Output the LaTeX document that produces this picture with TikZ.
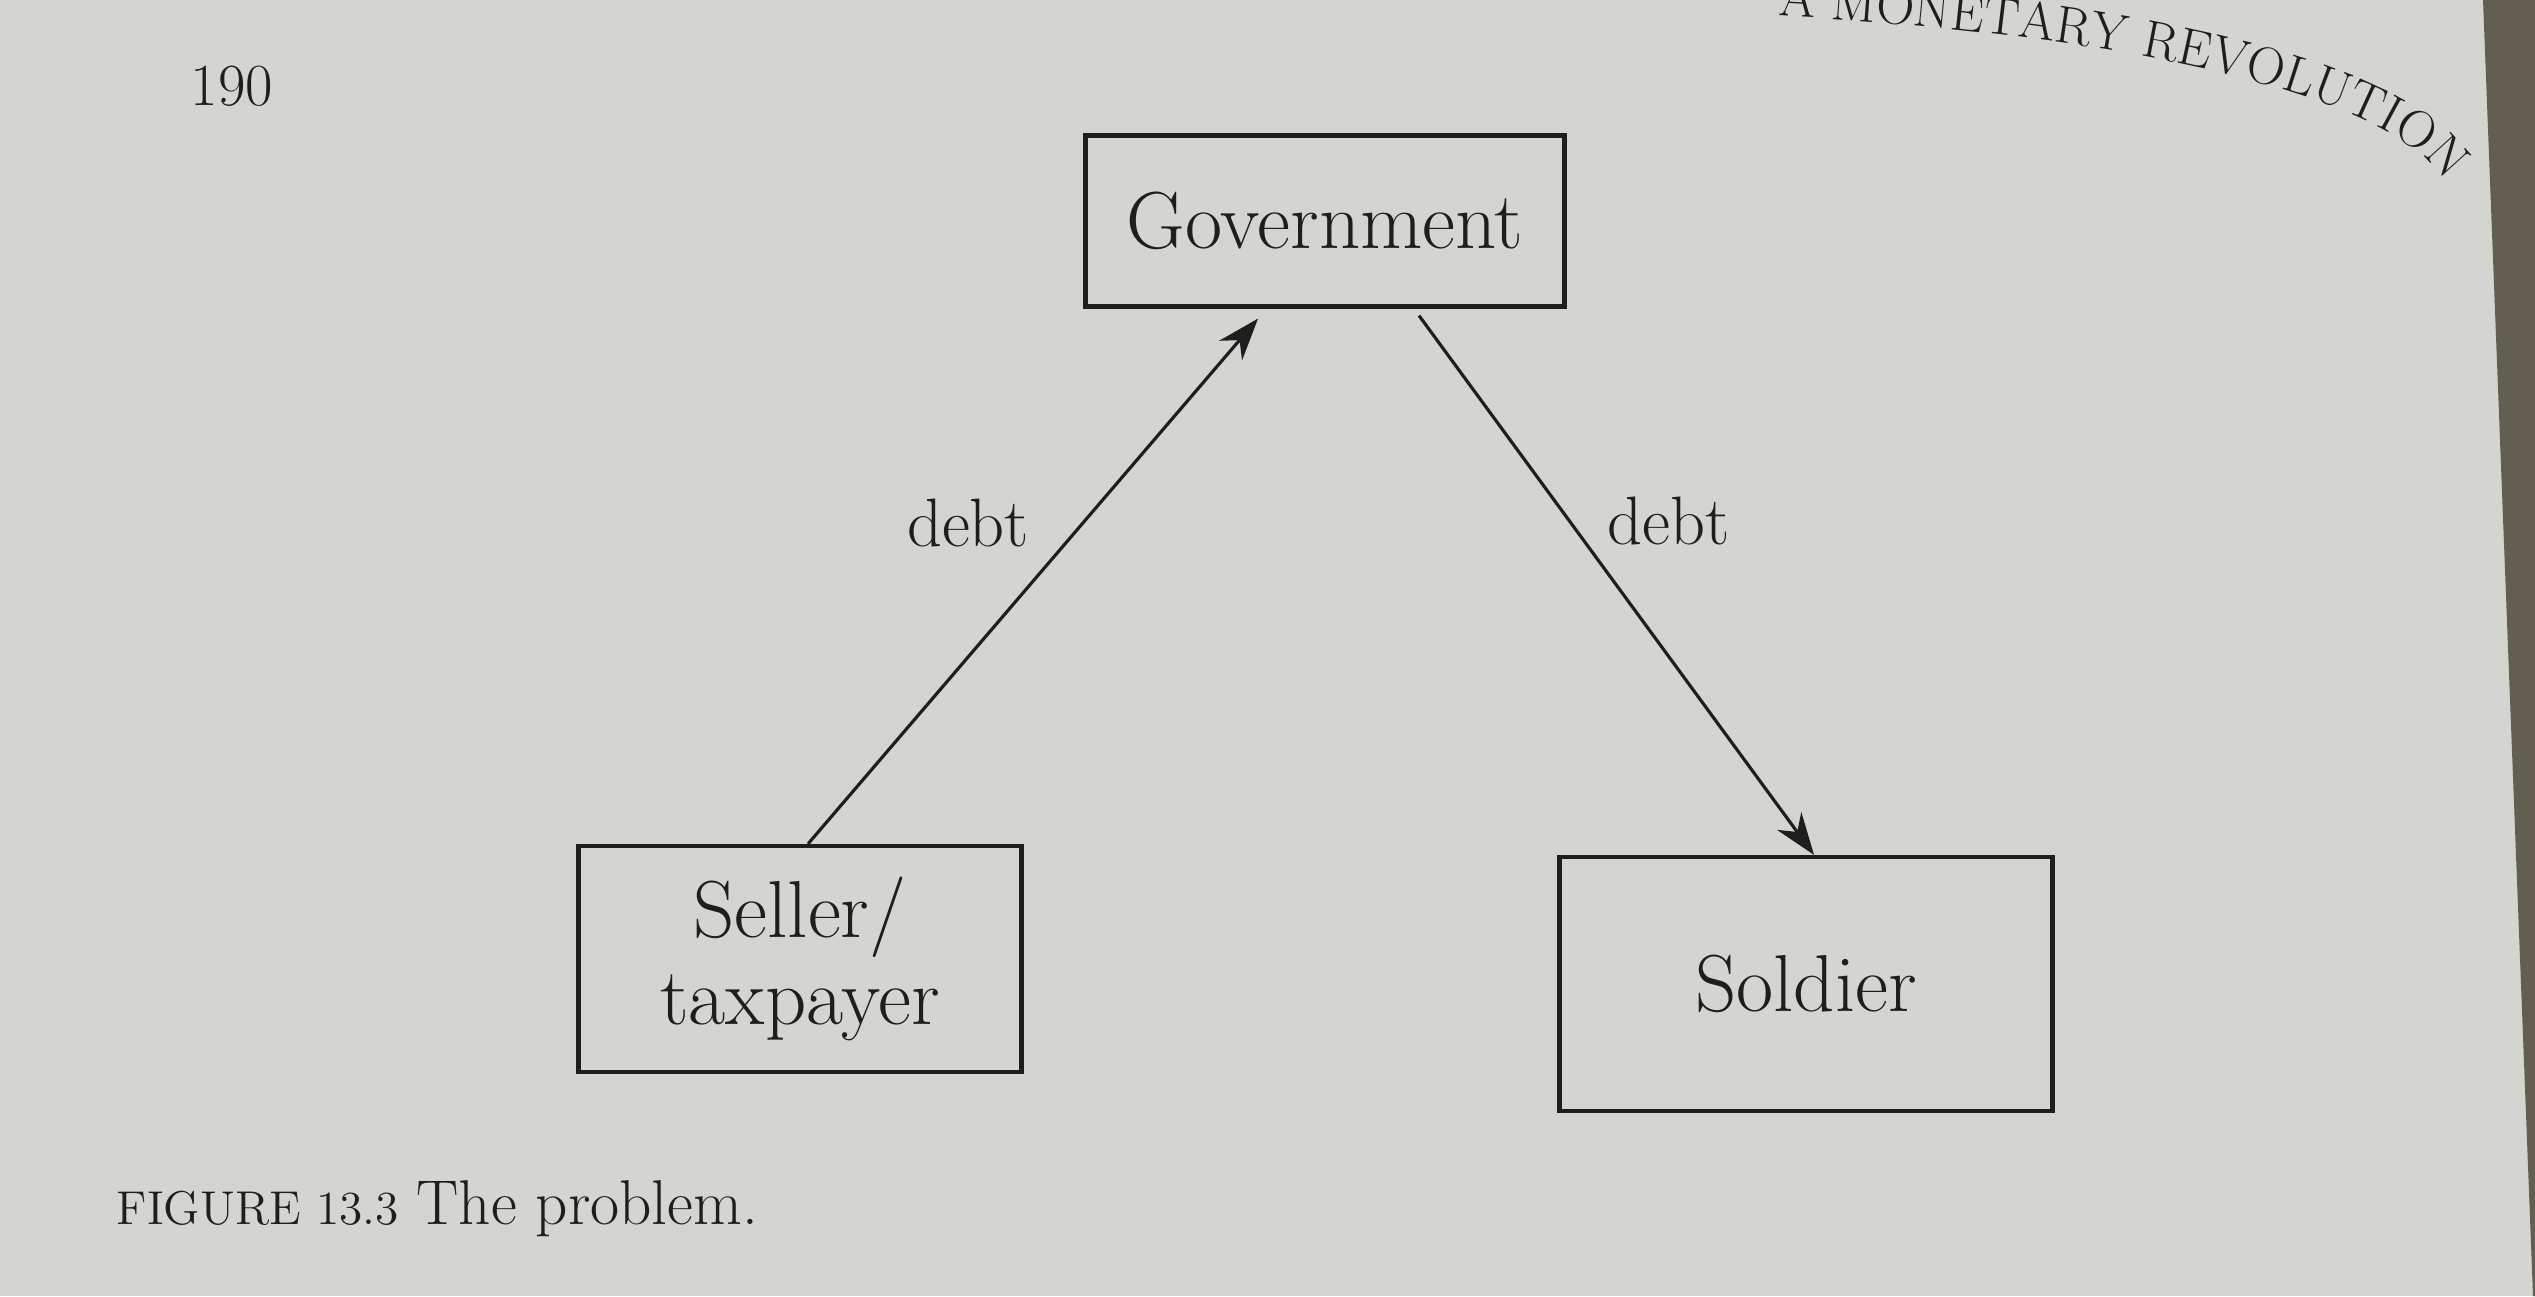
\documentclass[tikz,border=0pt]{standalone}
\usetikzlibrary{arrows.meta,positioning,decorations.text}
\definecolor{paper}{RGB}{212,212,208}
\definecolor{pageedge}{RGB}{98,95,80}
\definecolor{ink}{RGB}{30,30,30}
\begin{document}
\begin{tikzpicture}[
  box/.style={draw=ink, line width=1.2pt, align=center, text=ink, font=\fontsize{23}{25}\selectfont},
  flow/.style={draw=ink, line width=0.9pt, -{Stealth[length=0.42cm,width=0.3cm]}},
  lbl/.style={text=ink, font=\fontsize{19.5}{22}\selectfont}]
\fill[paper] (0,0) rectangle (25.35,12.96);
\fill[pageedge] (24.83,12.96) -- (25.35,12.96) -- (25.35,0) -- (25.33,0) -- cycle;
\useasboundingbox (0,0) rectangle (25.35,12.96);
\node[box, minimum width=4.79cm, minimum height=1.71cm] (gov) at (13.25,10.75) {Government};
\node[box, minimum width=4.43cm, minimum height=2.26cm] (seller) at (8.00,3.37) {Seller/\\taxpayer};
\node[box, minimum width=4.93cm, minimum height=2.54cm] (soldier) at (18.06,3.12) {Soldier};
\draw[flow] ([xshift=0.08cm]seller.north) -- node[lbl, pos=0.61, left=0.4cm] {debt} ([xshift=-0.67cm,yshift=-0.1cm]gov.south);
\draw[flow] ([xshift=0.94cm,yshift=-0.07cm]gov.south) -- node[lbl, pos=0.38, right=0.25cm] {debt} ([xshift=0.08cm]soldier.north);
\node[text=ink, font=\fontsize{17}{20}\selectfont] (page) at (2.32,12.1) {190};
\node[anchor=base west, text=ink, inner sep=0pt] (caption) at (1.16,0.72) {{\fontsize{13.5}{16}\selectfont FIGURE 13.3}\enspace{\fontsize{18}{21}\selectfont The problem.}};
\path[decorate, decoration={text along path, text={|\fontsize{15}{18}\selectfont\color{ink}|A MONETARY REVOLUTION}, text align=fit to path}] (17.78,12.8) .. controls (21.4,12.6) and (23.9,12.0) .. (24.45,11.15);
\end{tikzpicture}
\end{document}
